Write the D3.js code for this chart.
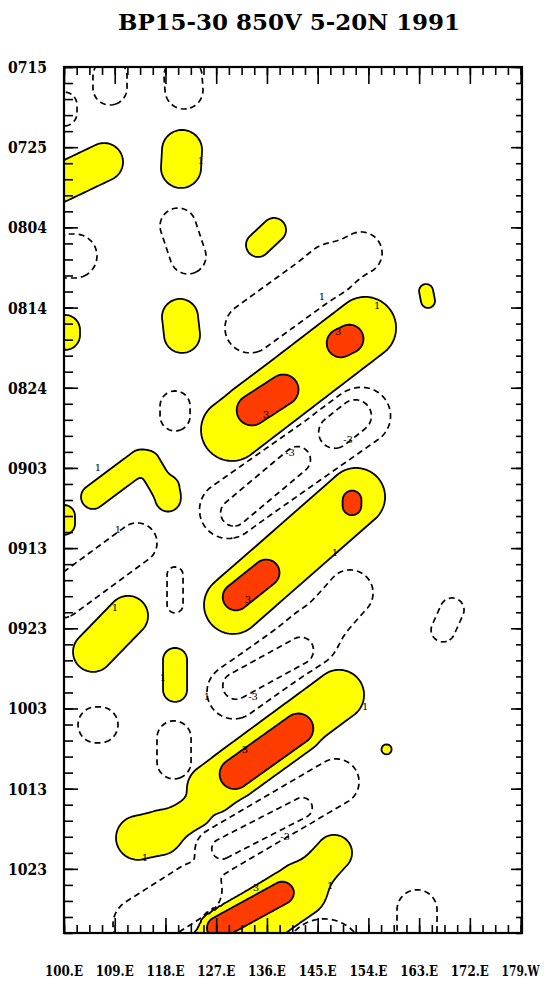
<!DOCTYPE html>
<html><head><meta charset="utf-8">
<script src="https://cdn.jsdelivr.net/npm/d3@7"></script>
<style>body{margin:0;background:#fff}svg{display:block}</style>
</head><body><svg id="c" width="549" height="986"></svg>
<script>
// ---------- data ----------
const title = "BP15-30 850V 5-20N 1991";
const xTickLons = [100,109,118,127,136,145,154,163,172,181];
const xTickLabels = ["100.E","109.E","118.E","127.E","136.E","145.E","154.E","163.E","172.E","179.W"];
const yTickDays = [0,10,20,30,40,50,60,70,80,90,100];           // days after 15 Jul 1991
const yTickLabels = ["0715","0725","0804","0814","0824","0903","0913","0923","1003","1013","1023"];
const contourLevels = [1,3];

// anomaly features: sign, segment end points (lon, day), radius of |v|=1 and |v|=3 (deg lon)
const blobSign = [ 1, 1, 1, 1, 1, 1, 1, 1, 1, 1, 1, 1, 1, 1, 1, 1, 1, 1, 1, 1, 1, 1, 1, 1, 1, 1,
                  -1,-1,-1,-1,-1,-1,-1,-1,-1,-1,-1,-1,-1,-1,-1,-1,-1,-1,-1,-1,-1,-1,-1,-1];
const blobLon1 = [98.58,120.94,134.42,164.23,100.18,120.58,129.81,133.36,149.15,129.99,130.52,151.10,105.15,114.90,118.45,100.00,105.15,119.70,126.26,113.13,117.03,130.34,157.22,126.79,141.87,127.32,
                  108.16,121.11,100.00,120.23,100.00,133.00,147.20,119.70,129.10,148.08,130.16,99.65,119.70,130.16,143.65,130.52,168.84,105.68,119.52,127.32,113.48,128.03,146.13,162.63];
const blobDay1 = [14.71,10.35,22.19,27.93,32.79,31.17,45.26,42.77,34.41,67.08,66.08,53.99,53.62,49.38,52.37,55.99,72.94,73.94,90.02,96.13,95.51,88.15,85.10,110.10,102.62,107.36,
                  1.12,1.12,4.74,19.83,23.57,32.54,25.31,42.27,55.24,45.51,55.61,66.21,63.34,77.93,71.20,77.18,67.71,82.04,83.67,97.76,106.98,97.51,111.35,105.11];
const blobLon2 = [107.10,120.76,137.26,164.58,100.18,120.94,153.41,138.86,150.57,151.81,135.84,151.10,113.48,118.45,118.45,100.00,111.36,119.70,148.79,117.03,123.24,141.52,157.22,141.87,147.91,138.68,
                  108.16,121.29,100.00,122.00,101.95,147.20,152.70,119.70,152.87,151.63,141.34,112.95,119.70,143.65,150.75,141.87,167.25,106.39,119.52,148.26,123.24,142.23,146.13,162.63];
const blobDay2 = [11.85,12.59,20.32,29.18,33.42,33.42,32.54,40.27,33.92,53.62,63.09,54.74,49.25,53.62,53.99,56.98,68.45,77.68,78.30,95.51,92.89,82.54,85.10,102.62,98.00,102.99,
                  2.62,2.87,5.74,23.57,23.57,25.31,23.19,43.52,43.52,43.52,49.00,59.35,67.08,71.20,65.59,72.82,70.20,82.04,86.66,89.15,102.62,92.39,111.35,107.61];
const blobR1   = [3.37,3.55,2.13,1.24,2.66,3.19,5.50,4.26,3.90,5.15,3.73,2.66,2.13,2.13,1.95,1.95,3.55,2.13,4.44,3.90,2.84,4.08,0.90,4.79,3.19,3.19,
                  3.02,3.37,2.31,3.19,3.90,4.44,3.73,2.66,5.06,4.26,3.55,3.55,1.42,4.79,4.08,3.55,2.13,3.19,3.02,4.08,4.79,2.66,7.27,3.55];
const blobR3   = [0,0,0,0,0,0,0,2.66,2.48,0,2.31,1.60,0,0,0,0,0,0,0,0,0,2.66,0,0,0,1.95,
                  0,0,0,0,0,0,0,0,0,2.84,2.31,0,0,0,0,2.31,0,0,0,0,0,1.77,0,0];

// contour labels
const labelLon  = [135.84,148.62,155.54,145.78,150.39,140.10,132.65,148.08,133.53,125.37,132.12,153.41,139.21,134.07,147.20,114.37,117.57,109.05,109.58,106.03,124.31];
const labelDay  = [43.39,33.04,29.80,28.68,46.51,48.13,66.46,60.60,78.55,78.55,85.16,79.80,96.01,102.37,102.12,98.63,76.18,67.46,57.73,50.00,11.60];
const labelText = ["3","3","1","1","-3","-3","3","1","-3","1","3","1","-3","3","1","1","1","1","1","1","1"];

// ---------- layout ----------
const X0=64, X1=522, Y0=67, Y1=933;
const SERIF = "'DejaVu Serif', 'Liberation Serif', serif";
const svg = d3.select("#c");
const x = d3.scaleLinear().domain([100,181.25]).range([X0,X1]);
const y = d3.scaleLinear().domain([0,108]).range([Y0,Y1]);
const ppd = x(101)-x(100);

const blobs = blobSign.map((s,i)=>({s,
  ax:x(blobLon1[i]), ay:y(blobDay1[i]), bx:x(blobLon2[i]), by:y(blobDay2[i]),
  r1:blobR1[i]*ppd, r3:blobR3[i]*ppd}));

function segDist(px,py,b){
  const dx=b.bx-b.ax, dy=b.by-b.ay, L2=dx*dx+dy*dy;
  let t = L2>0 ? ((px-b.ax)*dx+(py-b.ay)*dy)/L2 : 0;
  t = Math.max(0,Math.min(1,t));
  const qx=b.ax+t*dx-px, qy=b.ay+t*dy-py;
  return Math.sqrt(qx*qx+qy*qy);
}
const cell=2, nx=Math.round((X1-X0)/cell), ny=Math.round((Y1-Y0)/cell);
const values = new Float64Array(nx*ny);
const LN3=Math.log(3), LN2=Math.log(2);
for(let j=0;j<ny;j++){
  const py=Y0+(j+0.5)*cell;
  for(let i=0;i<nx;i++){
    const px=X0+(i+0.5)*cell;
    let sp=0, sn=0;
    for(const b of blobs){
      const d=segDist(px,py,b);
      const g = b.r3>0 ? LN3*(b.r1*b.r1-d*d)/(b.r1*b.r1-b.r3*b.r3) : LN2*(1-d*d/(b.r1*b.r1));
      if(g<-6) continue;
      const v=Math.exp(4*g);
      if(b.s>0) sp+=v; else sn+=v;
    }
    const pos=Math.pow(sp,0.25), neg=Math.pow(sn,0.25);
    values[j*nx+i] = pos>=neg ? pos : -neg;
  }
}
const negValues = values.map(v=>-v);
const gen = d3.contours().size([nx,ny]).smooth(true).thresholds(contourLevels);
const posC = gen(values), negC = gen(negValues);
const path = d3.geoPath(d3.geoTransform({point(px,py){this.stream.point(X0+px*cell, Y0+py*cell);}}));

svg.append("clipPath").attr("id","clip").append("rect").attr("x",X0).attr("y",Y0).attr("width",X1-X0).attr("height",Y1-Y0);
const plot = svg.append("g").attr("clip-path","url(#clip)");
const fills = ["#ffff00","#ff3c00"];
plot.selectAll("path.f").data(posC).join("path").attr("class","f")
  .attr("d",path).attr("fill",(d,i)=>fills[i]).attr("stroke","#000").attr("stroke-width",1.8).attr("stroke-linejoin","round");
plot.selectAll("path.n").data(negC).join("path").attr("class","n")
  .attr("d",path).attr("fill","none").attr("stroke","#000").attr("stroke-width",1.7).attr("stroke-dasharray","6,4");
plot.selectAll("text.lab").data(labelText).join("text").attr("class","lab")
  .attr("x",(d,i)=>x(labelLon[i])).attr("y",(d,i)=>y(labelDay[i]))
  .attr("text-anchor","middle").attr("dominant-baseline","central")
  .attr("font-family",SERIF).attr("font-size",10).text(d=>d);

// frame
svg.append("rect").attr("x",X0).attr("y",Y0).attr("width",X1-X0).attr("height",Y1-Y0)
  .attr("fill","none").attr("stroke","#000").attr("stroke-width",2.2);

// ticks (inward)
const xMinor = d3.range(100,181.01,2.25), yMinor = d3.range(0,108.01,2);
function ax(gen,tf,vals,size){
  svg.append("g").attr("transform",tf)
    .call(gen.tickValues(vals).tickSize(size).tickFormat(""))
    .call(g=>{g.select(".domain").remove(); g.selectAll("line").attr("stroke","#000").attr("stroke-width",1.6);});
}
ax(d3.axisTop(x),`translate(0,${Y0})`,xMinor,-8);
ax(d3.axisTop(x),`translate(0,${Y0})`,xTickLons,-17);
ax(d3.axisBottom(x),`translate(0,${Y1})`,xMinor,-8);
ax(d3.axisBottom(x),`translate(0,${Y1})`,xTickLons,-15);
ax(d3.axisLeft(y),`translate(${X0},0)`,yMinor,-9);
ax(d3.axisLeft(y),`translate(${X0},0)`,yTickDays,-14);
ax(d3.axisRight(y),`translate(${X1},0)`,yMinor,-6);
ax(d3.axisRight(y),`translate(${X1},0)`,yTickDays,-11);

// tick labels
svg.selectAll("text.yl").data(yTickDays).join("text").attr("class","yl")
  .attr("x",X0-17).attr("y",d=>y(d)+6).attr("text-anchor","end")
  .attr("font-family",SERIF).attr("font-weight","bold").attr("font-size",16)
  .attr("textLength",39).attr("lengthAdjust","spacingAndGlyphs")
  .text((d,i)=>yTickLabels[i]);
svg.selectAll("text.xl").data(xTickLons).join("text").attr("class","xl")
  .attr("x",d=>x(d)).attr("y",976).attr("text-anchor","middle")
  .attr("font-family",SERIF).attr("font-weight","bold").attr("font-size",15)
  .attr("textLength",38).attr("lengthAdjust","spacingAndGlyphs")
  .text((d,i)=>xTickLabels[i]);
svg.append("text").attr("x",289).attr("y",30).attr("text-anchor","middle")
  .attr("font-family",SERIF).attr("font-size",23).attr("font-weight","bold")
  .attr("textLength",342).attr("lengthAdjust","spacingAndGlyphs").text(title);
</script></body></html>
